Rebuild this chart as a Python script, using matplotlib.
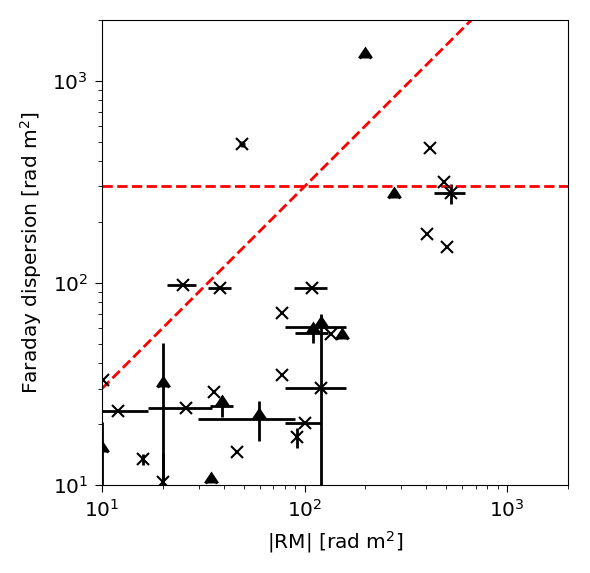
import matplotlib
matplotlib.use("Agg")
import matplotlib.pyplot as plt
import numpy as np

# Cross-marker sources: |RM|, Faraday dispersion, errors
cross_rm = [10.1, 12, 16, 20.1, 25.9, 35.9, 46.4, 100.3, 91.3, 120, 77.6, 77.6,
            134.5, 109.2, 25.0, 38.4, 49.2, 417, 489.5, 528, 402, 503]
cross_fd = [33, 23.3, 13.4, 10.4, 24.0, 29.0, 14.5, 20.2, 17.2, 30.1, 70.8, 35.0,
            55.7, 94.1, 97.8, 94.1, 488, 464, 314, 278, 175, 151]
cross_rm_err = [0, 4.9, 0, 0, 9, 0, 0, 20, 0, 40, 0, 0,
                0, 20, 4, 5, 1.5, 0, 0, 90, 0, 0]
cross_fd_err = [0, 0, 0.8, 4, 0, 0, 0, 0, 2, 40, 0, 0,
                0, 0, 0, 0, 15, 0, 0, 32, 0, 0]

# Triangle-marker sources
tri_rm = [10, 20.1, 39.2, 34.6, 59.8, 120, 110.2, 154, 200, 277]
tri_fd = [14.5, 30.7, 24.6, 10.2, 21.2, 60.2, 56.5, 53, 1300, 264]
tri_rm_err = [0, 0, 5, 0, 30, 40, 20, 0, 0, 0]
tri_fd_err = [6, 20, 3, 0, 4.7, 0, 6, 0, 0, 0]

# Reference lines
rm_line = [10, 2000]
fd_ratio = 3.0
fd_const = 300

fig = plt.figure(figsize=(5.9, 5.73), dpi=100)
ax = fig.add_axes([0.1729, 0.1536, 0.7898, 0.8115])

ax.errorbar(cross_rm, cross_fd, xerr=cross_rm_err, yerr=cross_fd_err,
            fmt='x', color='black', ms=9, mew=1.5, elinewidth=2, capsize=0)
ax.errorbar(tri_rm, tri_fd, xerr=tri_rm_err, yerr=tri_fd_err,
            fmt='none', ecolor='black', elinewidth=2, capsize=0)
ax.plot(tri_rm, tri_fd, linestyle='none', marker=10, color='black',
        ms=8.5, mew=2.4)

rl = np.array(rm_line, dtype=float)
ax.plot(rl, fd_ratio * rl, '--', color='red', lw=2)
ax.axhline(fd_const, ls='--', color='red', lw=2)

ax.set_xscale('log')
ax.set_yscale('log')
ax.set_xlim(10, 2000)
ax.set_ylim(10, 2000)
ax.set_xlabel('|RM| [rad m$^2$]', fontsize=14.5, labelpad=6)
ax.set_ylabel('Faraday dispersion [rad m$^2$]', fontsize=14.5, labelpad=6)
ax.tick_params(labelsize=14.5, length=5, pad=5)
ax.tick_params(which='minor', length=3)

fig.savefig('out.png', dpi=100)
